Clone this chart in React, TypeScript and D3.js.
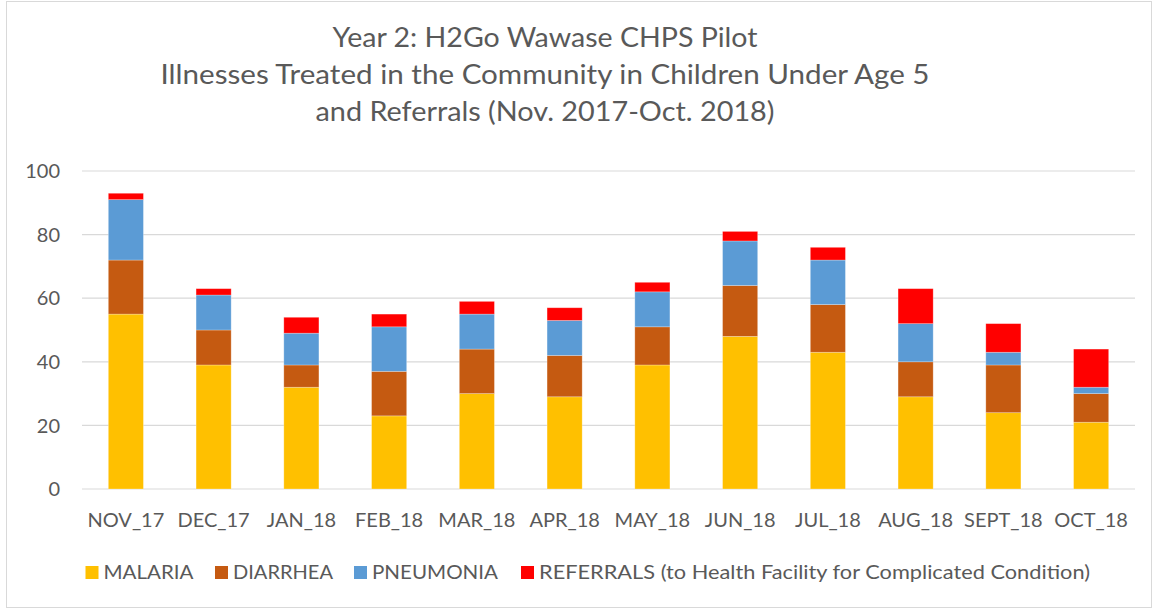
import React from "react";
import * as d3 from "d3";

const months = ["NOV_17","DEC_17","JAN_18","FEB_18","MAR_18","APR_18","MAY_18","JUN_18","JUL_18","AUG_18","SEPT_18","OCT_18"];
const malaria = [55, 39, 32, 23, 30, 29, 39, 48, 43, 29, 24, 21];
const diarrhea = [17, 11, 7, 14, 14, 13, 12, 16, 15, 11, 15, 9];
const pneumonia = [19, 11, 10, 14, 11, 11, 11, 14, 14, 12, 4, 2];
const referrals = [2, 2, 5, 4, 4, 4, 3, 3, 4, 11, 9, 12];
const seriesNames = ["MALARIA", "DIARRHEA", "PNEUMONIA", "REFERRALS (to Health Facility for Complicated Condition)"];
const seriesColors = ["#FFC000", "#C55A11", "#5B9BD5", "#FF0000"];
const yTicks = [0, 20, 40, 60, 80, 100];
const titleLines = [
  "Year 2: H2Go Wawase CHPS Pilot",
  "Illnesses Treated in the Community in Children Under Age 5",
  "and Referrals (Nov. 2017-Oct. 2018)",
];

const W = 1155, H = 611;
const FONT = "Lato, 'Open Sans', sans-serif";
const TEXT = "#595959";

export default function App() {
  const x = d3.scaleBand<string>().domain(months).range([82, 1135]).paddingInner(0.6).paddingOuter(0.3);
  const y = d3.scaleLinear().domain([0, 100]).range([489, 171]);

  const rows = months.map((m, i) => ({ month: m, s0: malaria[i], s1: diarrhea[i], s2: pneumonia[i], s3: referrals[i] }));
  const stack = d3.stack<any>().keys(["s0", "s1", "s2", "s3"]);
  const layers = stack(rows);

  const titleW = [425, 769, 459];
  const titleY = [47, 84, 121];
  const legendX = [85.5, 215, 354, 521];
  const legendW = [90, 100, 126, 551];

  return (
    <svg width={W} height={H} style={{ position: "absolute", left: 0, top: 0, background: "#fff" }} fontFamily={FONT}>
      <rect x={6.5} y={1.5} width={1145} height={606} fill="#fff" stroke="#D9D9D9" strokeWidth={1} />
      {titleLines.map((t, i) => (
        <text key={i} x={545} y={titleY[i]} textAnchor="middle" fontSize={26} fill={TEXT}
          textLength={titleW[i]} lengthAdjust="spacingAndGlyphs">{t}</text>
      ))}
      {yTicks.map((t) => (
        <g key={t}>
          <line x1={82} x2={1135} y1={y(t)} y2={y(t)} stroke="#D9D9D9" strokeWidth={1.2} />
          <text x={60} y={y(t)} dy="0.36em" textAnchor="end" fontSize={20} fill={TEXT}>{t}</text>
        </g>
      ))}
      {layers.map((layer, li) => (
        <g key={li} fill={seriesColors[li]}>
          {layer.map((d, i) => (
            <rect key={i} x={x(months[i])} width={x.bandwidth()} y={y(d[1])} height={y(d[0]) - y(d[1])}
              stroke="#fff" strokeOpacity={0.35} strokeWidth={0.75} />
          ))}
        </g>
      ))}
      {months.map((m) => (
        <text key={m} x={(x(m) as number) + x.bandwidth() / 2} y={527} textAnchor="middle" fontSize={20} fill={TEXT}>{m}</text>
      ))}
      {seriesNames.map((n, i) => (
        <g key={n}>
          <rect x={legendX[i]} y={566} width={13} height={13} fill={seriesColors[i]} />
          <text x={legendX[i] + 18} y={578.5} fontSize={20} fill={TEXT}
            textLength={legendW[i]} lengthAdjust="spacingAndGlyphs">{n}</text>
        </g>
      ))}
    </svg>
  );
}
